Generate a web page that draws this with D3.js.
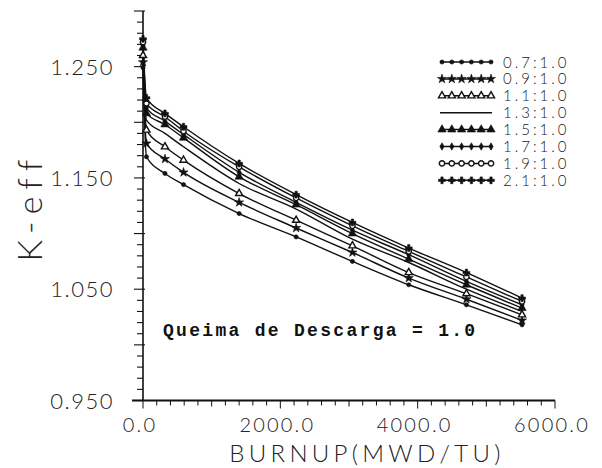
<!DOCTYPE html>
<html>
<head>
<meta charset="utf-8">
<script src="https://cdn.jsdelivr.net/npm/d3@7"></script>
<style>
  html, body { margin: 0; padding: 0; background: #fff; }
  svg { display: block; }
</style>
</head>
<body>
<svg id="chart" width="602" height="468"></svg>
<script>
// ---- data ----
const burnup = [0, 50, 320, 590, 1400, 2230, 3050, 3870, 4710, 5520];
const ratioLabels = ["0.7:1.0", "0.9:1.0", "1.1:1.0", "1.3:1.0", "1.5:1.0", "1.7:1.0", "1.9:1.0", "2.1:1.0"];
const k07 = [1.249, 1.169, 1.154, 1.144, 1.118, 1.097, 1.075, 1.054, 1.036, 1.018];
const k09 = [1.254, 1.181, 1.167, 1.155, 1.128, 1.105, 1.083, 1.060, 1.041, 1.022];
const k11 = [1.260, 1.193, 1.178, 1.166, 1.136, 1.112, 1.089, 1.065, 1.046, 1.027];
const k13 = [1.263, 1.202, 1.190, 1.178, 1.145, 1.122, 1.095, 1.074, 1.050, 1.030];
const k15 = [1.267, 1.208, 1.198, 1.186, 1.151, 1.126, 1.100, 1.077, 1.054, 1.033];
const k17 = [1.269, 1.213, 1.201, 1.189, 1.155, 1.128, 1.103, 1.081, 1.057, 1.036];
const k19 = [1.272, 1.217, 1.205, 1.192, 1.160, 1.132, 1.107, 1.084, 1.061, 1.039];
const k21 = [1.275, 1.222, 1.208, 1.196, 1.163, 1.135, 1.110, 1.087, 1.065, 1.042];
const seriesValues = [k07, k09, k11, k13, k15, k17, k19, k21];
const xTickValues = [0, 2000, 4000, 6000];
const xTickLabels = ["0.0", "2000.0", "4000.0", "6000.0"];
const yTickValues = [0.95, 1.05, 1.15, 1.25];
const yTickLabels = ["0.950", "1.050", "1.150", "1.250"];
const xTitle = "BURNUP(MWD/TU)";
const yTitle = "K-eff";
const note = "Queima de Descarga = 1.0";

// ---- layout ----
const svg = d3.select("#chart");
const x = d3.scaleLinear().domain([0, 6000]).range([143, 555]);
const y = d3.scaleLinear().domain([0.95, 1.30]).range([400.5, 11]);
const ink = "#111";
const labelFont = "Lato, 'Liberation Sans', Arial, sans-serif";
const labelWeight = 300;

// marker styles per series
const markerDefs = [
  { type: d3.symbolCircle, size: 14, fill: true },
  { type: d3.symbolStar, size: 26, fill: true },
  { type: d3.symbolTriangle, size: 22, fill: false },
  { type: null },
  { type: d3.symbolTriangle, size: 30, fill: true },
  { type: d3.symbolDiamond, size: 16, fill: true },
  { type: d3.symbolCircle, size: 22, fill: false },
  { type: d3.symbolCross, size: 26, fill: true }
];

function drawMarker(g, def, px, py) {
  if (!def.type) return;
  g.append("path")
    .attr("d", d3.symbol().type(def.type).size(def.size)())
    .attr("transform", `translate(${px},${py})`)
    .attr("fill", def.fill ? ink : "#fff")
    .attr("stroke", ink)
    .attr("stroke-width", def.fill ? 0.6 : 1.4);
}

// ---- axes ----
const axes = svg.append("g");
axes.append("line").attr("x1", x(0)).attr("x2", x(0)).attr("y1", y(1.30)).attr("y2", y(0.95))
  .attr("stroke", ink).attr("stroke-width", 1.6);
axes.append("line").attr("x1", x(0) - 11).attr("x2", x(6000)).attr("y1", y(0.95)).attr("y2", y(0.95))
  .attr("stroke", ink).attr("stroke-width", 1.8);

const yMinor = d3.range(95, 131).map(v => v / 100);
yMinor.forEach(v => {
  const major = Math.round(v * 100) % 5 === 0;
  axes.append("line")
    .attr("x1", x(0) - (major ? 9 : 6)).attr("x2", x(0) + (major ? 2 : 0))
    .attr("y1", y(v)).attr("y2", y(v))
    .attr("stroke", ink).attr("stroke-width", 1.1);
});
const xMinor = d3.range(0, 6001, 200);
xMinor.forEach(v => {
  const major = v % 2000 === 0;
  const mid = v % 1000 === 0;
  axes.append("line")
    .attr("x1", x(v)).attr("x2", x(v))
    .attr("y1", y(0.95)).attr("y2", y(0.95) + (major ? 8 : (mid ? 6 : 5)))
    .attr("stroke", ink).attr("stroke-width", 1);
});

axes.selectAll("text.ylab").data(yTickValues).enter().append("text")
  .attr("class", "ylab")
  .attr("x", 114).attr("y", d => y(d) + 8)
  .attr("text-anchor", "end")
  .attr("font-family", labelFont).attr("font-weight", labelWeight)
  .attr("font-size", 22).attr("letter-spacing", 1.5)
  .attr("fill", "#222")
  .text((d, i) => yTickLabels[i]);

axes.selectAll("text.xlab").data(xTickValues).enter().append("text")
  .attr("class", "xlab")
  .attr("x", d => x(d) - 3).attr("y", 432)
  .attr("text-anchor", "middle")
  .attr("font-family", labelFont).attr("font-weight", labelWeight)
  .attr("font-size", 20).attr("letter-spacing", 2.2)
  .attr("fill", "#222")
  .text((d, i) => xTickLabels[i]);

svg.append("text")
  .attr("x", 367).attr("y", 462)
  .attr("text-anchor", "middle")
  .attr("font-family", labelFont).attr("font-weight", labelWeight)
  .attr("font-size", 24).attr("letter-spacing", 4.3)
  .attr("fill", "#222")
  .text(xTitle);

svg.append("text")
  .attr("transform", "translate(42,207) rotate(-90)")
  .attr("text-anchor", "middle")
  .attr("font-family", labelFont).attr("font-weight", labelWeight)
  .attr("font-size", 34).attr("letter-spacing", 7)
  .attr("fill", "#222")
  .text(yTitle);

// ---- curves ----
const line = d3.line()
  .x(d => x(d[0])).y(d => y(d[1]))
  .curve(d3.curveMonotoneX);

const plot = svg.append("g");
seriesValues.forEach((vals) => {
  const pts = burnup.map((b, i) => [b, vals[i]]);
  plot.append("path")
    .attr("d", line(pts))
    .attr("fill", "none")
    .attr("stroke", ink)
    .attr("stroke-width", 1.4);
});
seriesValues.forEach((vals, si) => {
  const g = plot.append("g");
  burnup.forEach((b, i) => drawMarker(g, markerDefs[si], x(b), y(vals[i])));
});

// ---- legend ----
const legend = svg.append("g");
const legX0 = 440, legX1 = 492, legY0 = 62, legDy = 16.9;
ratioLabels.forEach((lab, i) => {
  const ly = legY0 + i * legDy;
  legend.append("line")
    .attr("x1", legX0).attr("x2", legX1).attr("y1", ly).attr("y2", ly)
    .attr("stroke", ink).attr("stroke-width", 1.5);
  const g = legend.append("g");
  d3.range(6).forEach(k => drawMarker(g, markerDefs[i], legX0 + 2 + k * 9.8, ly));
  legend.append("text")
    .attr("x", 503).attr("y", ly + 5.5)
    .attr("font-family", labelFont).attr("font-weight", labelWeight)
    .attr("font-size", 15).attr("letter-spacing", 3)
    .attr("fill", "#222")
    .text(lab);
});

// ---- annotation ----
svg.append("text")
  .attr("x", 163).attr("y", 336)
  .attr("font-family", "Liberation Mono, Courier New, monospace")
  .attr("font-weight", "bold")
  .attr("font-size", 18).attr("letter-spacing", 2.3)
  .attr("fill", ink)
  .text(note);
</script>
</body>
</html>
